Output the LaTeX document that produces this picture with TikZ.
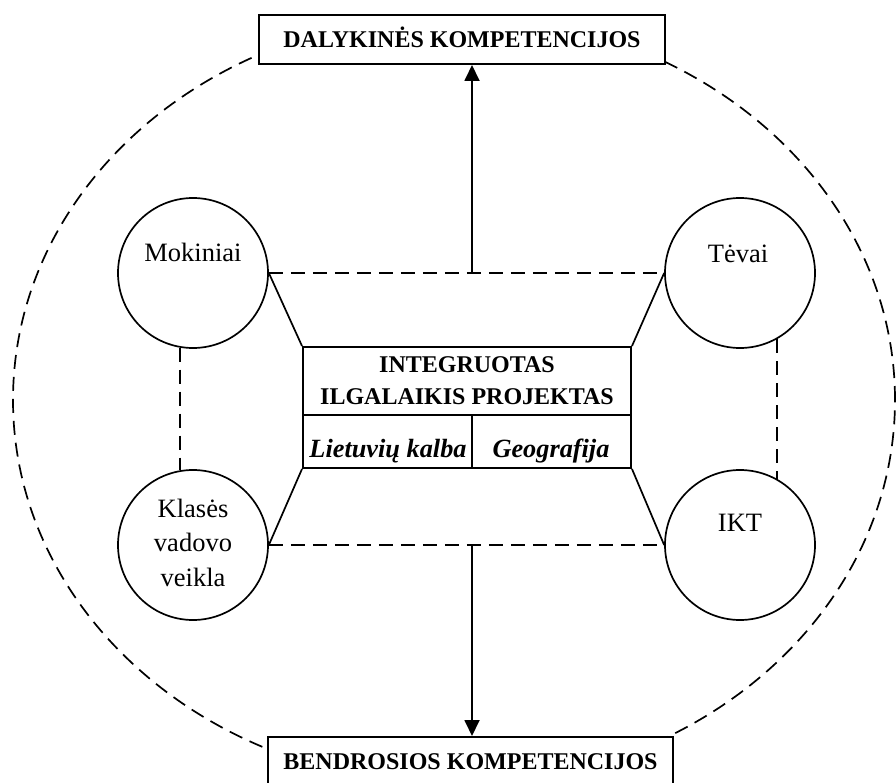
\documentclass[tikz,border=0pt]{standalone}
\usepackage{fontspec}
\setmainfont{Liberation Serif}
\usetikzlibrary{positioning,arrows.meta,calc}

\begin{document}
\begin{tikzpicture}[x=1pt,y=-1pt,
	>={Triangle[width=15pt,length=16pt]},
	kbox/.style={draw, fill=white, line width=2pt, inner sep=0pt, minimum width=406pt, minimum height=49pt, text height=16pt, text depth=0pt, font=\fontsize{24}{28}\selectfont\bfseries},
	actor/.style={draw, circle, line width=1.7pt, minimum size=150pt, inner sep=0pt},
	actortext/.style={font=\fontsize{26.5}{34.5}\selectfont, inner sep=0pt},
	cell/.style={draw, fill=white, line width=2pt, inner sep=0pt},
	subj/.style={anchor=base, inner sep=0pt, font=\fontsize{26.3}{30}\selectfont\bfseries\itshape},
	link/.style={line width=1.7pt, dash pattern=on 14pt off 8pt}]
	\useasboundingbox (0,0) rectangle (896,783);
	\draw[link] (454,400) ellipse [x radius=441pt, y radius=385pt];
	\node[kbox] (dal) at (462,39.5) {DALYKINĖS KOMPETENCIJOS};
	\node[kbox, minimum width=405pt] (ben) at (470.5,761.5) {BENDROSIOS KOMPETENCIJOS};
	\node[actor] (mok) at (193,273) {};
	\node[actor] (tev) at (740,273) {};
	\node[actor] (kla) at (193,545) {};
	\node[actor] (ikt) at (740,545) {};
	\node[actortext, anchor=base] (mokt) at (193,262) {Mokiniai};
	\node[actortext, anchor=base] (tevt) at (738,263) {Tėvai};
	\node[actortext, anchor=base] (iktt) at (740,531) {IKT};
	\node[actortext, align=center] (klat) at (193,542.5) {Klasės\\vadovo\\veikla};
	\node[cell, minimum width=328pt, minimum height=68pt, align=center, font=\fontsize{24}{32}\selectfont\bfseries] (proj) at (467,381) {INTEGRUOTAS\\ILGALAIKIS PROJEKTAS};
	\node[cell, minimum width=169pt, minimum height=53pt] (liet) at (387.5,441.5) {};
	\node[cell, minimum width=159pt, minimum height=53pt] (geo) at (551.5,441.5) {};
	\node[subj] (liett) at (388,457) {Lietuvių kalba};
	\node[subj] (geot) at (551,457) {Geografija};
	\draw[line width=1.7pt] (proj.north west) -- (mok.east);
	\draw[line width=1.7pt] (proj.north east) -- (tev.west);
	\draw[line width=1.7pt] (liet.south west) -- (kla.east);
	\draw[line width=1.7pt] (geo.south east) -- (ikt.west);
	\draw[link] (mok.east) -- (tev.west);
	\draw[link] (kla.east) -- (ikt.west);
	\draw[link] (mok.260) -- (kla.100);
	\draw[link] (tev.-61) -- (ikt.61);
	\coordinate (up) at (472,273);
	\coordinate (down) at (472,545);
	\draw[->, line width=1.8pt] (up) -- (up |- dal.south);
	\draw[->, line width=1.8pt] (down) -- (down |- ben.north);
\end{tikzpicture}
\end{document}
